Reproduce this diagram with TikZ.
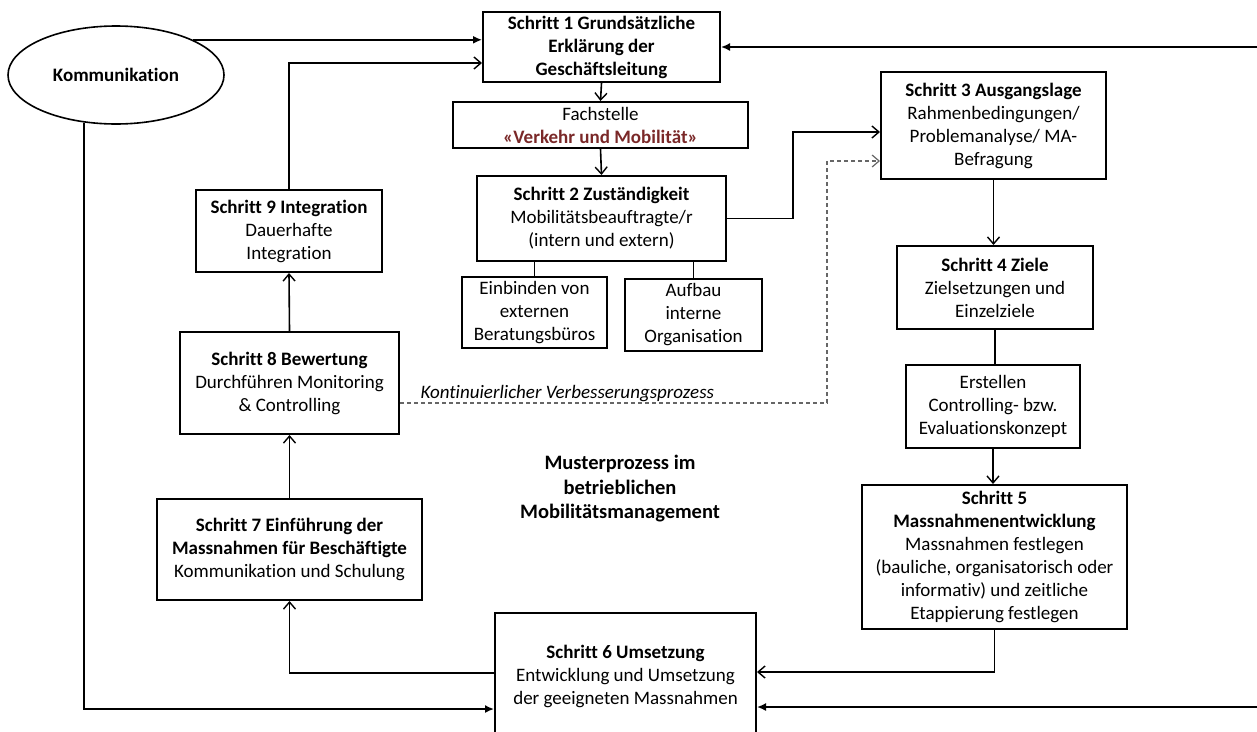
\documentclass[tikz,border=0pt]{standalone}
\usepackage{fontspec}
\setmainfont[Ligatures={NoCommon}]{Carlito}
\usetikzlibrary{arrows.meta,shapes.geometric}
\definecolor{brownred}{RGB}{122,40,40}
\begin{document}
\begin{tikzpicture}[x=1pt,y=-1pt,
  box/.style={draw, line width=2pt, rectangle, align=center, inner sep=2pt, font=\fontsize{19}{23}\selectfont},
  conn/.style={line width=1.6pt},
  arrO/.style={conn, -{Straight Barb[length=7pt,width=12pt,line width=1.4pt]}},
  arrF/.style={conn, -{Latex[length=9pt,width=8pt]}},
  dashconn/.style={line width=1.3pt, black!60, dash pattern=on 4pt off 3pt, -{Straight Barb[length=7pt,width=12pt,line width=1.2pt]}},
  plain/.style={align=center, font=\fontsize{19}{23}\selectfont}
]
\useasboundingbox (0,0) rectangle (1257,731);
\clip (0,0) rectangle (1257,731);

% nodes
\node[draw, ellipse, line width=1.6pt, minimum width=216pt, minimum height=98pt, font=\fontsize{19}{23}\selectfont\bfseries] (komm) at (116,75) {Kommunikation};

\node[box, minimum width=237pt, minimum height=70pt] (s1) at (601.5,47)
  {\textbf{Schritt 1 Grundsätzliche}\\\textbf{Erklärung der}\\\textbf{Geschäftsleitung}};
\node[box, minimum width=295pt, minimum height=46pt] (fach) at (600.5,125)
  {Fachstelle\\\textcolor{brownred}{\textbf{«Verkehr und Mobilität»}}};
\node[box, minimum width=249pt, minimum height=85pt] (s2) at (601.5,218.5)
  {\textbf{Schritt 2 Zuständigkeit}\\Mobilitätsbeauftragte/r\\(intern und extern)};
\node[box, minimum width=145pt, minimum height=71pt] (ein) at (534.5,312.5)
  {Einbinden von\\externen\\Beratungsbüros};
\node[box, minimum width=137pt, minimum height=72pt] (auf) at (693.5,315)
  {Aufbau\\interne\\Organisation};
\node[box, minimum width=225pt, minimum height=107pt] (s3) at (993.5,125.5)
  {\textbf{Schritt 3 Ausgangslage}\\Rahmenbedingungen/\\Problemanalyse/ MA-\\Befragung};
\node[box, minimum width=196pt, minimum height=83pt] (s4) at (995,287.5)
  {\textbf{Schritt 4 Ziele}\\Zielsetzungen und\\Einzelziele};
\node[box, minimum width=174pt, minimum height=83pt] (erst) at (993,406.5)
  {Erstellen\\Controlling- bzw.\\Evaluationskonzept};
\node[box, minimum width=265pt, minimum height=144pt] (s5) at (994.5,557)
  {\textbf{Schritt 5}\\\textbf{Massnahmenentwicklung}\\Massnahmen festlegen\\(bauliche, organisatorisch oder\\informativ) und zeitliche\\Etappierung festlegen};
\node[box, minimum width=261pt, minimum height=126pt] (s6) at (625.5,676)
  {\textbf{Schritt 6 Umsetzung}\\Entwicklung und Umsetzung\\der geeigneten Massnahmen};
\node[box, minimum width=265pt, minimum height=101pt] (s7) at (289.5,549.5)
  {\textbf{Schritt 7 Einführung der}\\\textbf{Massnahmen für Beschäftigte}\\Kommunikation und Schulung};
\node[box, minimum width=219pt, minimum height=102pt] (s8) at (289.5,383)
  {\textbf{Schritt 8 Bewertung}\\Durchführen Monitoring\\\& Controlling};
\node[box, minimum width=186pt, minimum height=82pt] (s9) at (289,231)
  {\textbf{Schritt 9 Integration}\\Dauerhafte\\Integration};
\node[plain, font=\fontsize{20.5}{24.5}\selectfont\bfseries] (muster) at (620,489)
  {Musterprozess im\\betrieblichen\\Mobilitätsmanagement};

\coordinate (rtop) at (1257,47);
\coordinate (rbot) at (1257,707);

% connectors
\draw[arrF] (komm.north east) -- (s1.west |- komm.north east);
\draw[arrO] (s9.north) |- (s1.west |- 0,63);
\draw[arrF] (komm.236) |- (s6.west |- 0,709);
\draw[arrF] (rtop) -- (s1.east |- rtop);
\draw[arrF] (rbot) -- (s6.east |- rbot);
\draw[arrO] (s1.south) -- (fach.north);
\draw[arrO] (fach.south) -- (s2.north);
\draw[arrO] (s2.east) -| (793,132) -- (s3.west |- 0,132);
\draw[conn] (ein.north) -- (ein.north |- s2.south);
\draw[conn] (auf.north) -- (auf.north |- s2.south);
\draw[dashconn] (s8.east |- 0,403) -- (827,403) -- (827,161) -- (s3.west |- 0,161);
\node[font=\fontsize{19}{23}\selectfont\itshape, anchor=base west] (kvp) at (417,398) {Kontinuierlicher Verbesserungsprozess};
\draw[arrO] (s3.south) -- (s3.south |- s4.north);
\draw[conn] (s4.south) -- (s4.south |- erst.north);
\draw[arrO] (erst.south) -- (erst.south |- s5.north);
\draw[arrO] (s5.south) |- (s6.east |- 0,672);
\draw[arrO] (s6.west |- 0,673) -| (s7.south);
\draw[arrO] (s7.north) -- (s8.south);
\draw[arrO] (s8.north) -- (s9.south);
\end{tikzpicture}
\end{document}
